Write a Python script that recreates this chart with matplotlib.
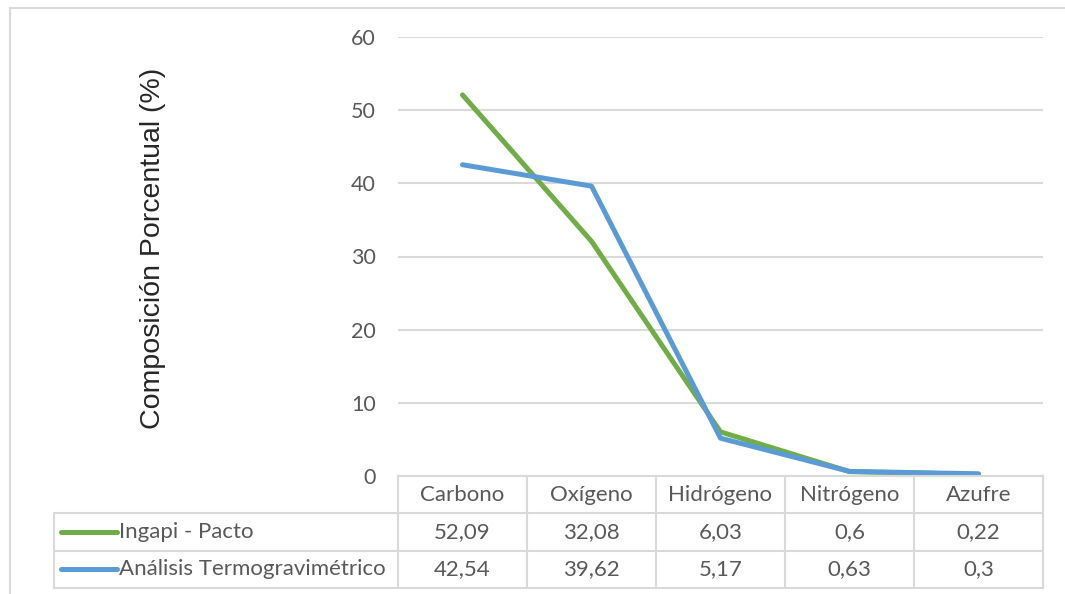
import matplotlib
matplotlib.use("Agg")
import matplotlib.pyplot as plt
from matplotlib.lines import Line2D
from matplotlib.transforms import blended_transform_factory

# Elemental composition data
categories = ["Carbono", "Oxígeno", "Hidrógeno", "Nitrógeno", "Azufre"]
series_names = ["Ingapi - Pacto", "Análisis Termogravimétrico"]
ingapi = [52.09, 32.08, 6.03, 0.6, 0.22]
termo = [42.54, 39.62, 5.17, 0.63, 0.3]
ingapi_labels = ["52,09", "32,08", "6,03", "0,6", "0,22"]
termo_labels = ["42,54", "39,62", "5,17", "0,63", "0,3"]
yticks = [0, 10, 20, 30, 40, 50, 60]

GREEN = "#70AD47"
BLUE = "#5B9BD5"
GRID = "#D9D9D9"
TXT = "#595959"
FONT = ["Lato", "DejaVu Sans"]
FS = 16
TICK_FS = 15.5

W, H = 1065, 594
fig = plt.figure(figsize=(W / 100, H / 100), dpi=100)
fig.patch.set_facecolor("white")

def fx(px):
    return px / W

def fy(py):
    return 1 - py / H

# plot area
left, right, top, bottom = 398, 1043, 37, 476
ax = fig.add_axes([fx(left), fy(bottom), fx(right - left), (bottom - top) / H])
ax.set_xlim(-0.5, len(categories) - 0.5)
ax.set_ylim(0, 60)
ax.set_yticks(yticks)
ax.set_yticklabels([str(v) for v in yticks], fontfamily=FONT, fontsize=TICK_FS, color=TXT)
ax.tick_params(axis="y", length=0, pad=16)
ax.set_xticks([])
for s in ax.spines.values():
    s.set_visible(False)
ax.grid(axis="y", color=GRID, linewidth=1.5)
ax.set_axisbelow(True)

x = list(range(len(categories)))
ax.plot(x, ingapi, color=GREEN, linewidth=3.6, solid_capstyle="round",
        solid_joinstyle="round", clip_on=False, zorder=3)
ax.plot(x, termo, color=BLUE, linewidth=3.6, solid_capstyle="round",
        solid_joinstyle="round", clip_on=False, zorder=4)

# y-axis title
fig.text(fx(153), fy(248), "Composición Porcentual (%)", rotation=90,
         ha="center", va="center", fontsize=20.5,
         fontfamily=["Liberation Sans", "DejaVu Sans"], color="#262626")

# data table under the plot
rows_px = [476, 513.3, 550.7, 588]
rows = [fy(r) for r in rows_px]
tr = blended_transform_factory(ax.transData, fig.transFigure)
lw = 1.5

# horizontal rules
fig.add_artist(Line2D([-0.5, 4.5], [rows[0]] * 2, transform=tr, color=GRID, lw=lw))
for r in rows[1:]:
    fig.add_artist(Line2D([fx(54), fx(right)], [r, r], color=GRID, lw=lw))
# vertical rules
for i in range(len(categories) + 1):
    fig.add_artist(Line2D([i - 0.5] * 2, [rows[0], rows[3]], transform=tr, color=GRID, lw=lw))
fig.add_artist(Line2D([fx(54)] * 2, [rows[1], rows[3]], color=GRID, lw=lw))

# header and values
for i, cat in enumerate(categories):
    yc = (rows[0] + rows[1]) / 2
    fig.text(i, yc, cat, transform=tr, ha="center", va="center",
             fontfamily=FONT, fontsize=FS, color=TXT)
    fig.text(i, (rows[1] + rows[2]) / 2, ingapi_labels[i], transform=tr,
             ha="center", va="center", fontfamily=FONT, fontsize=FS, color=TXT)
    fig.text(i, (rows[2] + rows[3]) / 2, termo_labels[i], transform=tr,
             ha="center", va="center", fontfamily=FONT, fontsize=FS, color=TXT)

# series keys
for k, (name, col) in enumerate(zip(series_names, [GREEN, BLUE])):
    yc = (rows[k + 1] + rows[k + 2]) / 2
    fig.add_artist(Line2D([fx(61), fx(117)], [yc, yc], color=col, lw=3.6,
                          solid_capstyle="round"))
    fig.text(fx(119), yc, name, ha="left", va="center",
             fontfamily=FONT, fontsize=FS, color=TXT)

# chart area frame
fig.add_artist(Line2D([fx(10), fx(10)], [fy(8), 0], color=GRID, lw=1.5))
fig.add_artist(Line2D([fx(10), 1], [fy(8), fy(8)], color=GRID, lw=1.5))

fig.savefig("out.png", dpi=100, facecolor="white")
